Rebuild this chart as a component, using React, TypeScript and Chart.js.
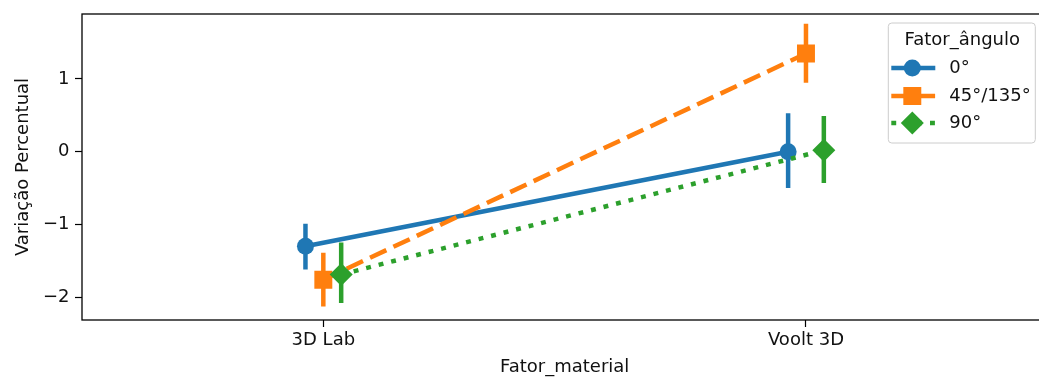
import React, { useEffect, useRef } from 'react';
import { Chart, registerables } from 'chart.js';

Chart.register(...registerables);

const categories = ['3D Lab', 'Voolt 3D'];
const seriesNames = ['0°', '45°/135°', '90°'];
const seriesColors = ['#1f77b4', '#ff7f0e', '#2ca02c'];
const seriesPointStyles = ['circle', 'rect', 'rectRot'];
const seriesPointRadius = [8.5, 12.7, 11.5];
const seriesDash: number[][] = [[], [18, 7.8], [4.9, 8]];
const dodgeOffsets = [-0.037, 0, 0.037];

const means0 = [-1.30, 0.00];
const low0 = [-1.62, -0.50];
const high0 = [-0.99, 0.53];

const means45 = [-1.76, 1.35];
const low45 = [-2.13, 0.95];
const high45 = [-1.39, 1.76];

const means90 = [-1.69, 0.02];
const low90 = [-2.08, -0.43];
const high90 = [-1.25, 0.49];

const yTicks = [-2, -1, 0, 1];
const xTicks = [0, 1];

const allMeans = [means0, means45, means90];
const allLows = [low0, low45, low90];
const allHighs = [high0, high45, high90];

const FONT = "'DejaVu Sans', sans-serif";
const FS = 18;
const LW = 4.5;

function drawMarker(ctx: CanvasRenderingContext2D, style: string, x: number, y: number, r: number) {
  ctx.beginPath();
  if (style === 'circle') {
    ctx.arc(x, y, r, 0, Math.PI * 2);
  } else if (style === 'rect') {
    const s = Math.SQRT1_2 * r;
    ctx.rect(x - s, y - s, 2 * s, 2 * s);
  } else {
    ctx.moveTo(x, y - r);
    ctx.lineTo(x + r, y);
    ctx.lineTo(x, y + r);
    ctx.lineTo(x - r, y);
    ctx.closePath();
  }
  ctx.fill();
}

const framePlugin = {
  id: 'frameAndLegend',
  afterDraw(chart: any) {
    const { ctx, chartArea } = chart;
    ctx.save();
    ctx.strokeStyle = '#000';
    ctx.lineWidth = 1.3;
    ctx.strokeRect(chartArea.left, chartArea.top, chartArea.right - chartArea.left, chartArea.bottom - chartArea.top);

    // legend
    const bw = 147;
    const bh = 120;
    const bx = chartArea.right - 12 - bw;
    const by = chartArea.top + 9;
    const rr = 3.5;
    ctx.beginPath();
    ctx.moveTo(bx + rr, by);
    ctx.lineTo(bx + bw - rr, by);
    ctx.quadraticCurveTo(bx + bw, by, bx + bw, by + rr);
    ctx.lineTo(bx + bw, by + bh - rr);
    ctx.quadraticCurveTo(bx + bw, by + bh, bx + bw - rr, by + bh);
    ctx.lineTo(bx + rr, by + bh);
    ctx.quadraticCurveTo(bx, by + bh, bx, by + bh - rr);
    ctx.lineTo(bx, by + rr);
    ctx.quadraticCurveTo(bx, by, bx + rr, by);
    ctx.closePath();
    ctx.fillStyle = 'rgba(255,255,255,0.8)';
    ctx.fill();
    ctx.strokeStyle = '#cccccc';
    ctx.lineWidth = 1;
    ctx.stroke();

    ctx.fillStyle = '#111';
    ctx.font = `${FS}px ${FONT}`;
    ctx.textAlign = 'center';
    ctx.textBaseline = 'middle';
    ctx.fillText('Fator_ângulo', bx + 74, by + 17);

    const rowY = [by + 45, by + 73, by + 100];
    for (let i = 0; i < seriesNames.length; i++) {
      const y = rowY[i];
      ctx.strokeStyle = seriesColors[i];
      ctx.fillStyle = seriesColors[i];
      ctx.lineWidth = LW;
      ctx.setLineDash(seriesDash[i]);
      ctx.beginPath();
      ctx.moveTo(bx + 3, y);
      ctx.lineTo(bx + 47, y);
      ctx.stroke();
      ctx.setLineDash([]);
      drawMarker(ctx, seriesPointStyles[i], bx + 24, y, seriesPointRadius[i]);
      ctx.fillStyle = '#111';
      ctx.textAlign = 'left';
      ctx.fillText(seriesNames[i], bx + 61, y);
    }
    ctx.restore();
  },
};

export default function App() {
  const canvasRef = useRef<HTMLCanvasElement | null>(null);

  useEffect(() => {
    document.body.style.margin = '0';
    const canvas = canvasRef.current;
    if (!canvas) return;

    const datasets: any[] = [];
    for (let i = 0; i < seriesNames.length; i++) {
      const off = dodgeOffsets[i];
      datasets.push({
        label: seriesNames[i],
        data: allMeans[i].map((v, c) => ({ x: c + off, y: v })),
        borderColor: seriesColors[i],
        backgroundColor: seriesColors[i],
        borderWidth: LW,
        borderDash: seriesDash[i],
        borderCapStyle: 'butt',
        pointStyle: seriesPointStyles[i],
        pointRadius: seriesPointRadius[i],
        pointBorderWidth: 0,
        pointHoverRadius: seriesPointRadius[i],
        tension: 0,
        order: (2 - i) * 2,
      });
      for (let c = 0; c < categories.length; c++) {
        datasets.push({
          label: '_err',
          data: [
            { x: c + off, y: allLows[i][c] },
            { x: c + off, y: allHighs[i][c] },
          ],
          borderColor: seriesColors[i],
          backgroundColor: seriesColors[i],
          borderWidth: LW,
          borderCapStyle: 'butt',
          pointRadius: 0,
          pointHoverRadius: 0,
          order: (2 - i) * 2 + 1,
        });
      }
    }

    const chart = new Chart(canvas, {
      type: 'line',
      data: { datasets },
      options: {
        responsive: false,
        animation: false,
        devicePixelRatio: 1,
        layout: { padding: { left: 0, right: 11, top: 14, bottom: 0 } },
        plugins: {
          legend: { display: false },
          tooltip: { enabled: false },
        },
        scales: {
          x: {
            type: 'linear',
            min: -0.5,
            max: 1.5,
            afterBuildTicks: (scale: any) => {
              scale.ticks = xTicks.map((v) => ({ value: v }));
            },
            afterFit: (scale: any) => {
              scale.height = 58;
              scale.paddingLeft = 0;
              scale.paddingRight = 0;
            },
            ticks: {
              callback: (v: any) => categories[Math.round(Number(v))] ?? '',
              color: '#111',
              font: { family: FONT, size: FS },
              padding: 3,
              maxRotation: 0,
            },
            grid: {
              drawOnChartArea: false,
              drawTicks: true,
              tickLength: 7,
              tickColor: '#000',
              tickWidth: 1.2,
            },
            border: { display: false },
            title: {
              display: true,
              text: 'Fator_material',
              color: '#111',
              font: { family: FONT, size: FS },
              padding: { top: 0, bottom: 0 },
            },
          },
          y: {
            type: 'linear',
            min: -2.315,
            max: 1.894,
            afterBuildTicks: (scale: any) => {
              scale.ticks = yTicks.map((v) => ({ value: v }));
            },
            afterFit: (scale: any) => {
              scale.width = 82;
              scale.paddingTop = 0;
              scale.paddingBottom = 0;
            },
            ticks: {
              callback: (v: any) => {
                const n = Number(v);
                return n < 0 ? '\u2212' + Math.abs(n) : String(n);
              },
              color: '#111',
              font: { family: FONT, size: FS },
              padding: 5.5,
            },
            grid: {
              drawOnChartArea: false,
              drawTicks: true,
              tickLength: 7,
              tickColor: '#000',
              tickWidth: 1.2,
            },
            border: { display: false },
            title: {
              display: true,
              text: 'Variação Percentual',
              color: '#111',
              font: { family: FONT, size: FS },
              padding: { top: 13, bottom: 0 },
            },
          },
        },
      },
      plugins: [framePlugin],
    } as any);

    return () => {
      chart.destroy();
    };
  }, []);

  return (
    <div style={{ width: 1039, height: 378, overflow: 'hidden', background: '#fff' }}>
      <canvas ref={canvasRef} width={1060} height={378} style={{ display: 'block' }} />
    </div>
  );
}
